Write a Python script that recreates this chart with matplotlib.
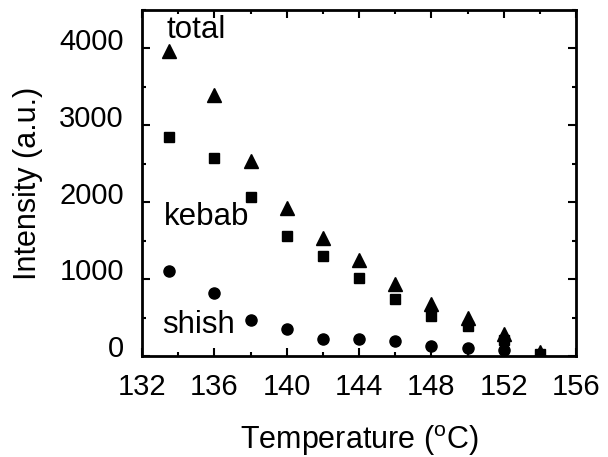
import matplotlib
matplotlib.use("Agg")
import matplotlib.pyplot as plt
import matplotlib.transforms as mtransforms
from matplotlib.ticker import MultipleLocator

plt.rcParams['font.family'] = ['Liberation Sans', 'DejaVu Sans']
plt.rcParams['mathtext.fontset'] = 'custom'
plt.rcParams['mathtext.rm'] = 'Liberation Sans'

# data
temp = [133.5, 136, 138, 140, 142, 144, 146, 148, 150, 152, 154]
total = [3970, 3390, 2540, 1920, 1530, 1250, 935, 670, 495, 280, 50]
kebab = [2845, 2570, 2070, 1560, 1300, 1010, 740, 515, 385, 210, 25]
shish_temp = [133.5, 136, 138, 140, 142, 144, 146, 148, 150, 152]
shish = [1110, 820, 470, 355, 220, 220, 190, 135, 110, 80]

fig = plt.figure(figsize=(6.08, 4.57), dpi=100)
ax = fig.add_axes([0.2336, 0.221, 0.714, 0.757])

ax.plot(shish_temp, shish, 'o', color='black', markersize=8)
ax.plot(temp, kebab, 's', color='black', markersize=7.5)
ax.plot(temp, total, '^', color='black', markersize=9.5)

ax.text(133.35, 4134, 'total', fontsize=22.5, va='baseline')
ax.text(133.2, 1705, 'kebab', fontsize=22.5, va='baseline')
ax.text(133.1, 303, 'shish', fontsize=22.5, va='baseline')

ax.set_xlim(132, 156)
ax.set_ylim(0, 4500)
ax.xaxis.set_major_locator(MultipleLocator(4))
ax.xaxis.set_minor_locator(MultipleLocator(2))
ax.yaxis.set_major_locator(MultipleLocator(1000))
ax.yaxis.set_minor_locator(MultipleLocator(500))
ax.tick_params(which='both', direction='in', top=True, right=True,
               labeltop=False, labelright=False, width=1.5)
ax.tick_params(which='major', length=6, labelsize=21)
ax.tick_params(axis='x', pad=12)
ax.tick_params(axis='y', pad=13)
ax.tick_params(which='minor', length=3)
for s in ax.spines.values():
    s.set_linewidth(2)

# y tick labels sit a little above their ticks in the original
shift = mtransforms.ScaledTranslation(0, 7 / 72, fig.dpi_scale_trans)
for lab in ax.get_yticklabels():
    lab.set_transform(lab.get_transform() + shift)

ax.set_xlabel(r'Temperature ($^{\mathrm{o}}$C)', fontsize=22, labelpad=16)
ax.set_ylabel('Intensity (a.u.)', fontsize=22, labelpad=12)

fig.savefig('out.png', dpi=100)
